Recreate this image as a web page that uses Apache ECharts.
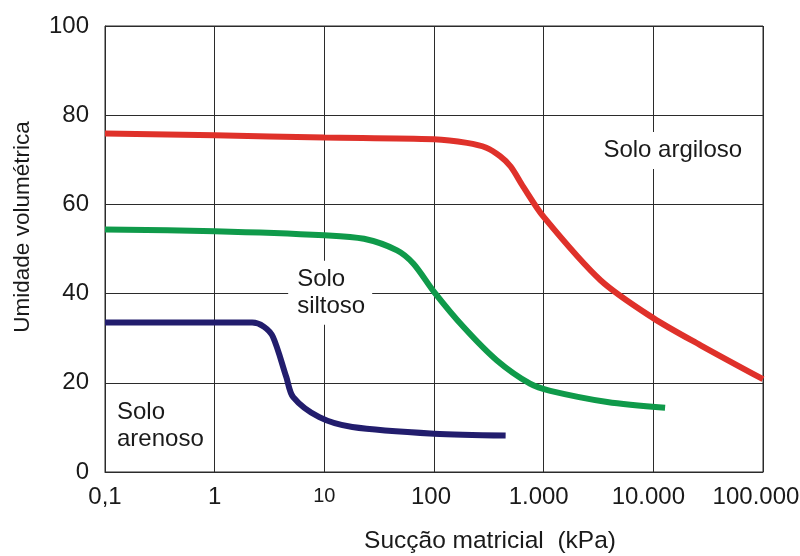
<!DOCTYPE html>
<html>
<head>
<meta charset="utf-8">
<script src="https://cdn.jsdelivr.net/npm/echarts@6/dist/echarts.min.js"></script>
<style>
  html, body { margin: 0; padding: 0; background: #fff; }
  #curva { width: 800px; height: 556px; }
</style>
</head>
<body>
<div id="curva"></div>
<script>
// eixo x (sucção, kPa) em escala log
const xTicks = [0.1, 1, 10, 100, 1000, 10000, 100000]
const xTickLabels = ['0,1', '1', '10', '100', '1.000', '10.000', '100.000']

// curvas de retenção [sucção, umidade]
const argiloso = [
  [0.1, 75.9], [1, 75.5], [10, 75.0], [100, 74.6], [200, 73.8], [300, 72.7],
  [400, 70.8], [500, 68.5], [650, 64.0], [1000, 57.2], [3300, 43.0],
  [10000, 34.5], [27000, 28.4], [100000, 20.8]
]
const siltoso = [
  [0.1, 54.4], [1, 54.0], [10, 53.1], [23, 52.3], [46, 49.7], [65, 46.7],
  [100, 40.4], [186, 32.5], [375, 25.0], [750, 19.8], [1150, 18.2],
  [3800, 15.7], [12800, 14.4]
]
const arenoso = [
  [0.1, 33.5], [1, 33.5], [2.2, 33.5], [2.8, 32.6], [3.4, 30.3], [4.5, 21.3],
  [5.2, 16.8], [9, 12.3], [18, 10.1], [100, 8.6], [450, 8.2]
]

// rótulos das curvas [sucção, umidade, texto, fundo branco?]
const rotulos = [
  [2900, 72.1, 'Solo argiloso', true],
  [4.68, 40.2, 'Solo\nsiltoso', true],
  [0.1065, 10.25, 'Solo\narenoso', false]
]

const chart = echarts.init(document.getElementById('curva'))
const font = 'Liberation Sans, Arial, sans-serif'
const gridColor = '#2b2b2b'
const textColor = '#1a1a1a'

const linha = (data, color) => ({
  type: 'line',
  data,
  smooth: 0.3,
  symbol: 'none',
  lineStyle: { color, width: 6 },
  z: 3
})

// os rótulos maiores ficam um pouco deslocados para a esquerda no original
const tickRich = {
  t0: { fontSize: 24, color: textColor },
  t1: { fontSize: 20, color: textColor, padding: [1, 0, 0, 0] },
  t2: { fontSize: 24, color: textColor, padding: [0, 6, 0, 0] },
  t3: { fontSize: 24, color: textColor, padding: [0, 10, 0, 0] },
  t4: { fontSize: 24, color: textColor, padding: [0, 14, 0, 0] }
}
const tickStyle = ['t0', 't0', 't1', 't2', 't3', 't3', 't4']

chart.setOption({
  animation: false,
  textStyle: { fontFamily: font },
  grid: {
    left: 105,
    right: 37,
    top: 26,
    bottom: 84,
    outerBoundsMode: 'none',
    containLabel: false,
    show: true,
    borderColor: gridColor,
    borderWidth: 1
  },
  xAxis: {
    type: 'log',
    logBase: 10,
    min: 0.1,
    max: 100000,
    splitNumber: 6,
    name: 'Sucção matricial  (kPa)',
    nameLocation: 'middle',
    nameGap: 57,
    nameTextStyle: { fontSize: 24.5, color: textColor, padding: [0, 0, 0, 112] },
    axisLine: { lineStyle: { color: gridColor, width: 1 } },
    axisTick: { show: false },
    splitLine: { show: true, lineStyle: { color: gridColor, width: 1 } },
    axisLabel: {
      margin: 13,
      fontSize: 24,
      color: textColor,
      formatter: (v) => {
        const i = Math.round(Math.log10(v)) + 1
        return '{' + tickStyle[i] + '|' + xTickLabels[i] + '}'
      },
      rich: tickRich
    }
  },
  yAxis: {
    type: 'value',
    min: 0,
    max: 100,
    interval: 20,
    name: 'Umidade volumétrica',
    nameLocation: 'middle',
    nameGap: 71,
    nameTextStyle: { fontSize: 22.5, color: textColor, padding: [0, 0, 0, 44] },
    axisLine: { show: true, lineStyle: { color: gridColor, width: 1 } },
    axisTick: { show: false },
    splitLine: { show: true, lineStyle: { color: gridColor, width: 1 } },
    axisLabel: { margin: 16, fontSize: 24, color: textColor }
  },
  series: [
    linha(argiloso, '#df312a'),
    linha(siltoso, '#0f9a4a'),
    linha(arenoso, '#221d6d'),
    {
      type: 'scatter',
      symbolSize: 0,
      z: 4,
      itemStyle: { opacity: 1 },
      data: rotulos.map(r => ({
        value: [r[0], r[1]],
        name: r[2],
        label: { backgroundColor: r[3] ? '#fff' : 'transparent' }
      })),
      label: {
        show: true,
        position: 'inside',
        align: 'left',
        verticalAlign: 'middle',
        formatter: '{b}',
        fontSize: 24,
        lineHeight: 27,
        color: textColor,
        opacity: 1,
        textBorderWidth: 0,
        padding: [5, 7, 5, 9]
      },
      emphasis: { disabled: true },
      silent: true
    }
  ]
})

window.onresize = () => {
  chart.resize()
}
</script>
</body>
</html>
